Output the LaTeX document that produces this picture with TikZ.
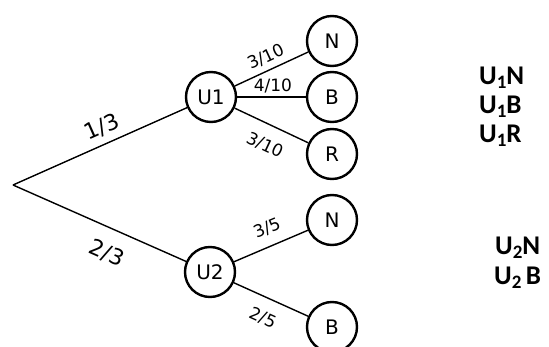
\documentclass[tikz,border=0pt]{standalone}
\usepackage{fontspec}
\setmainfont{DejaVu Sans}
\newfontfamily\calib{Carlito}
\newcommand\mysub[1]{\raisebox{-4pt}{\fontsize{19}{22}\selectfont #1}}
\begin{document}
\begin{tikzpicture}[x=1pt,y=-1pt,
  st/.style={circle,draw,line width=2.4pt,minimum size=50pt,inner sep=0pt,font=\fontsize{20}{24}\selectfont},
  br/.style={line width=1.4pt},
  lb/.style={sloped,inner sep=0pt,font=\fontsize{17}{20}\selectfont},
  lbb/.style={sloped,inner sep=0pt,font=\fontsize{22}{26}\selectfont},
  res/.style={anchor=base west,inner sep=0pt,font=\calib\bfseries\fontsize{27}{30}\selectfont}]
\useasboundingbox (0,0) rectangle (549,347);
\coordinate (O) at (13,185);
\node[st] (U1) at (211,97) {U1};
\node[st] (U2) at (210,272) {U2};
\node[st] (N1) at (332,41) {N};
\node[st] (B1) at (332,97) {B};
\node[st] (R1) at (332,154) {R};
\node[st] (N2) at (332,220) {N};
\node[st] (B2) at (332,327) {B};
\draw[br] (O) -- node[lbb,above=7pt,pos=0.55]{1/3} (U1);
\draw[br] (O) -- node[lbb,below=15pt,pos=0.6]{2/3} (U2);
\draw[br] (U1) -- node[lb,above=5.5pt,pos=0.5]{3/10} (N1);
\draw[br] (U1) -- node[lb,above=3.5pt,pos=0.52]{4/10} (B1);
\draw[br] (U1) -- node[lb,below=13pt,pos=0.53]{3/10} (R1);
\draw[br] (U2) -- node[lb,above=10pt,pos=0.54]{3/5} (N2);
\draw[br] (U2) -- node[lb,below=12.5pt,pos=0.5]{2/5} (B2);
\node[res] (t1) at (479,85) {U\mysub{1}N};
\node[res] (t2) at (479,114) {U\mysub{1}B};
\node[res] (t3) at (479,143) {U\mysub{1}R};
\node[res] (t4) at (495,255) {U\mysub{2}N};
\node[res] (t5) at (494,285) {U\mysub{2}\,B};
\end{tikzpicture}
\end{document}
